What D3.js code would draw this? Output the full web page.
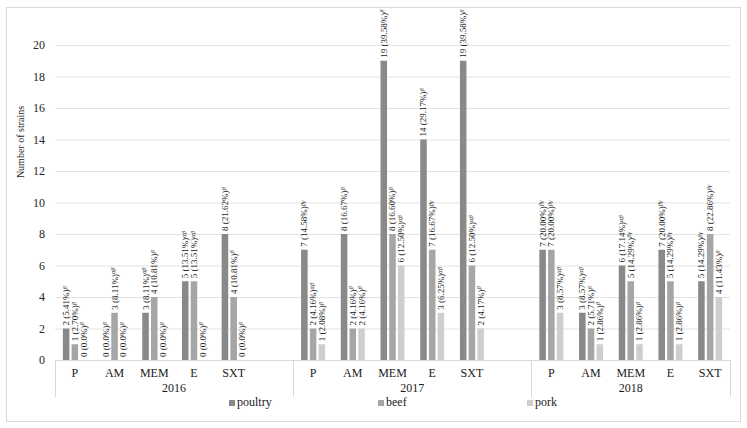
<!DOCTYPE html>
<html>
<head>
<meta charset="utf-8">
<script src="https://cdn.jsdelivr.net/npm/d3@7"></script>
<style>
  body { margin: 0; background: #fff; }
  svg { display: block; font-family: "Liberation Serif", "Times New Roman", serif; }
</style>
</head>
<body>
<div id="chart"></div>
<script>
var WIDTH = 747
var HEIGHT = 428

var years = ["2016", "2017", "2018"]
var drugs = ["P", "AM", "MEM", "E", "SXT"]
var series = ["poultry", "beef", "pork"]
var colors = ["#898989", "#a6a6a6", "#cecece"]

// counts, in order year by year, drug by drug
var poultry = [2, 0, 3, 5, 8,   7, 8, 19, 14, 19,   7, 3, 6, 7, 5]
var beef    = [1, 3, 4, 5, 4,   2, 2, 8, 7, 6,      7, 2, 5, 5, 8]
var pork    = [0, 0, 0, 0, 0,   1, 2, 6, 3, 2,      3, 1, 1, 1, 4]

var poultryPct = ["5.41", "0.0", "8.11", "13.51", "21.62", "14.58", "16.67", "39.58", "29.17", "39.58", "20.00", "8.57", "17.14", "20.00", "14.29"]
var beefPct    = ["2.70", "8.11", "10.81", "13.51", "10.81", "4.16", "4.16", "16.60", "16.67", "12.50", "20.00", "5.71", "14.29", "14.29", "22.86"]
var porkPct    = ["0.0", "0.0", "0.0", "0.0", "0.0", "2.08", "4.16", "12.50", "6.25", "4.17", "8.57", "2.86", "2.86", "2.86", "11.43"]

var poultrySup = ["β", "β", "αβ", "αβ", "β",   "βγ", "β", "β", "β", "β",    "βγ", "αβ", "αβ", "βγ", "βγ"]
var beefSup    = ["β", "αβ", "β", "αβ", "β",   "αβ", "β", "β", "βγ", "αβ",  "βγ", "β", "βγ", "βγ", "βγ"]
var porkSup    = ["β", "β", "β", "β", "β",     "β", "β", "αβ", "αβ", "β",   "αβ", "β", "β", "β", "β"]

var yTicks = [0, 2, 4, 6, 8, 10, 12, 14, 16, 18, 20]

var values = [poultry, beef, pork]
var pcts = [poultryPct, beefPct, porkPct]
var sups = [poultrySup, beefSup, porkSup]

// slots: five drugs per year, one empty slot between years
var slots = []
years.forEach(function(y, yi) {
  drugs.forEach(function(d) { slots.push(y + "|" + d) })
  if (yi < years.length - 1) slots.push(y + "|_")
})

var rows = []
years.forEach(function(y, yi) {
  drugs.forEach(function(d, di) {
    var k = yi * drugs.length + di
    series.forEach(function(s, si) {
      rows.push({slot: y + "|" + d, s: s, si: si, v: values[si][k], pct: pcts[si][k], sup: sups[si][k]})
    })
  })
})

var svg = d3.select("#chart").append("svg")
  .attr("width", WIDTH)
  .attr("height", HEIGHT)

svg.append("rect")
  .attr("x", 6.5).attr("y", 7.5)
  .attr("width", 734).attr("height", 414)
  .attr("fill", "#fff")
  .attr("stroke", "#d9d9d9")

var x = d3.scaleBand().domain(slots).range([55, 730])
var xIn = d3.scaleBand().domain(series).range([0, x.bandwidth()]).paddingInner(0.25).paddingOuter(0.9)
var y = d3.scaleLinear().domain([0, 20]).range([360, 45])

// grid + y axis
var yAxis = svg.append("g")
  .attr("transform", "translate(55,0)")
  .call(d3.axisLeft(y).tickValues(yTicks).tickSize(-675).tickPadding(10))
yAxis.select(".domain").remove()
yAxis.selectAll(".tick line").attr("stroke", "#e3e3e3")
yAxis.selectAll(".tick text")
  .attr("fill", "#262626")
  .style("font-size", "12px")
  .style("font-family", "'Liberation Serif', serif")

svg.append("text")
  .attr("transform", "translate(24,142) rotate(-90)")
  .attr("text-anchor", "middle")
  .attr("fill", "#262626")
  .style("font-size", "10px")
  .text("Number of strains")

// bars
svg.append("g").selectAll("rect")
  .data(rows)
  .join("rect")
  .attr("x", function(d) { return x(d.slot) + xIn(d.s) })
  .attr("y", function(d) { return y(d.v) })
  .attr("width", xIn.bandwidth())
  .attr("height", function(d) { return y(0) - y(d.v) })
  .attr("fill", function(d) { return colors[d.si] })

// rotated value labels
var lab = svg.append("g").selectAll("text")
  .data(rows)
  .join("text")
  .attr("transform", function(d) {
    var cx = x(d.slot) + xIn(d.s) + xIn.bandwidth() / 2
    return "translate(" + cx + "," + (y(d.v) - 3) + ") rotate(-90)"
  })
  .attr("dy", "0.33em")
  .attr("fill", "#1a1a1a")
  .style("font-size", "9px")
lab.append("tspan").text(function(d) { return d.v + " (" + d.pct + "%)" })
lab.append("tspan")
  .attr("dy", "-0.35em")
  .style("font-size", "6.5px")
  .style("font-style", "italic")
  .text(function(d) { return d.sup })

// x axis line and category labels
svg.append("line")
  .attr("x1", 55).attr("x2", 730)
  .attr("y1", y(0) + 0.5).attr("y2", y(0) + 0.5)
  .attr("stroke", "#d9d9d9")

svg.append("g").selectAll("text")
  .data(slots.filter(function(s) { return s.slice(-1) !== "_" }))
  .join("text")
  .attr("x", function(s) { return x(s) + x.bandwidth() / 2 })
  .attr("y", 377)
  .attr("text-anchor", "middle")
  .attr("fill", "#1a1a1a")
  .style("font-size", "12px")
  .text(function(s) { return s.split("|")[1] })

// year groups
var bounds = years.map(function(yr) {
  var ks = slots.filter(function(s) { return s.indexOf(yr) === 0 && s.slice(-1) !== "_" })
  var first = x(ks[0])
  var last = yr === years[years.length - 1] ? x(ks[ks.length - 1]) + x.bandwidth() : x(yr + "|_") + x.bandwidth()
  return {yr: yr, x0: first, x1: last}
})

svg.append("g").selectAll("line")
  .data([bounds[0].x0].concat(bounds.map(function(b) { return b.x1 })))
  .join("line")
  .attr("x1", function(d) { return Math.round(d) + 0.5 })
  .attr("x2", function(d) { return Math.round(d) + 0.5 })
  .attr("y1", y(0)).attr("y2", 397)
  .attr("stroke", "#d9d9d9")

svg.append("g").selectAll("text")
  .data(bounds)
  .join("text")
  .attr("x", function(b) { return (b.x0 + b.x1) / 2 })
  .attr("y", 392)
  .attr("text-anchor", "middle")
  .attr("fill", "#1a1a1a")
  .style("font-size", "12px")
  .text(function(b) { return b.yr })

// legend
var leg = svg.append("g").selectAll("g")
  .data(series)
  .join("g")
  .attr("transform", function(d, i) { return "translate(" + (229 + i * 149) + ",406)" })
leg.append("rect")
  .attr("x", 0).attr("y", -6)
  .attr("width", 6).attr("height", 6)
  .attr("fill", function(d, i) { return colors[i] })
leg.append("text")
  .attr("x", 8).attr("y", 0)
  .attr("fill", "#1a1a1a")
  .style("font-size", "12px")
  .text(function(d) { return d })
</script>
</body>
</html>
